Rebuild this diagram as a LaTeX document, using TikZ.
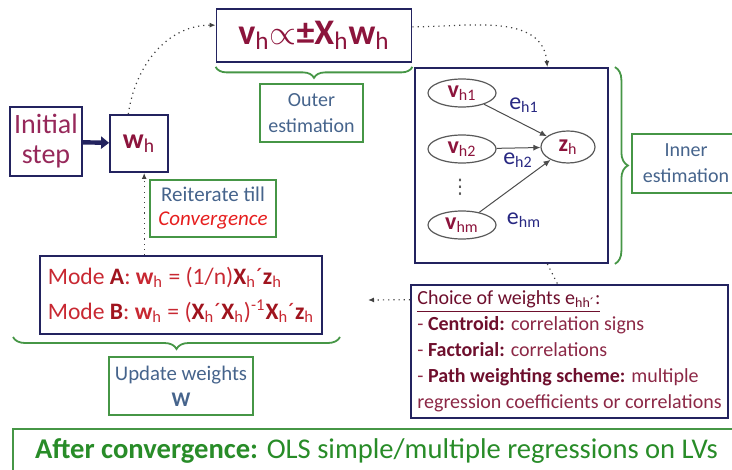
\documentclass[tikz,border=0pt]{standalone}
\usepackage{fontspec}
\setmainfont{Carlito}
\newfontfamily\symfont{DejaVu Sans}
\usetikzlibrary{arrows.meta,decorations.pathreplacing,shapes.geometric}
\definecolor{navy}{RGB}{35,35,95}
\definecolor{boxgreen}{RGB}{70,150,70}
\definecolor{initred}{RGB}{150,40,90}
\definecolor{maroon}{RGB}{140,20,60}
\definecolor{bluegray}{RGB}{70,100,140}
\definecolor{convred}{RGB}{230,30,30}
\definecolor{modered}{RGB}{200,40,50}
\definecolor{modedark}{RGB}{160,20,30}
\definecolor{enavy}{RGB}{40,40,130}
\definecolor{choicec}{RGB}{140,40,70}
\definecolor{choicedark}{RGB}{110,15,45}
\definecolor{aftergreen}{RGB}{40,140,40}
\newcommand{\sub}[1]{\textsubscript{#1}}
\begin{document}
\begin{tikzpicture}[x=0.5pt,y=-0.5pt,
  navybox/.style={shape=rectangle,draw=navy,line width=0.9pt,inner sep=0pt},
  greenbox/.style={shape=rectangle,draw=boxgreen,line width=0.9pt,inner sep=0pt,align=center},
  lv/.style={shape=ellipse,draw=gray!70!black,line width=0.6pt,minimum width=34pt,minimum height=14pt,inner sep=0pt},
  dotline/.style={dotted,line width=0.6pt,gray!50!black},
  lvarrow/.style={line width=0.5pt,gray!60!black,-{Latex[length=3.5pt,width=3pt]}},
  gbrace/.style={decorate,decoration={brace,amplitude=5.5pt},draw=boxgreen,line width=0.9pt}]
      \useasboundingbox (0,0) rectangle (732,470);

      \def\fbig{\fontsize{18}{20}\selectfont}
      \def\fmid{\fontsize{11.8}{17.5}\selectfont}
      \def\fsmall{\fontsize{10}{13}\selectfont}

      \path node (init) at (46,141.5)
            [navybox,minimum width=36pt,minimum height=34.5pt,align=center,
             text=initred,font=\fontsize{14}{15}\selectfont]
            {Initial\\step};

      \path node (wh) at (139,143.5)
            [navybox,minimum width=29pt,minimum height=28.5pt,
             text=maroon,font=\fontsize{14}{16}\selectfont]
            {\textbf{w}\sub{h}};

      \path node (vh) at (314,35.5)
            [navybox,minimum width=97.5pt,minimum height=26.5pt,
             text=maroon,font=\fbig]
            {\textbf{v}\sub{h}$\propto$\textbf{±X}\sub{h}\textbf{w}\sub{h}};

      \path node (outer) at (311.5,113)
            [greenbox,minimum width=51.5pt,minimum height=29pt,
             text=bluegray,font=\fsmall]
            {Outer\\estimation};

      \path node (reit) at (213,208.5)
            [greenbox,minimum width=63pt,minimum height=28.5pt,
             text=bluegray,font=\fontsize{10.5}{12}\selectfont]
            {Reiterate till\\\textit{\color{convred}Convergence}};

      \path node (inner) at (511.5,165.5)
            [navybox,minimum width=96.5pt,minimum height=97.5pt] {};

      \path node (vh1) at (462,93) [lv,text=maroon,font=\fontsize{12}{14}\selectfont]
            {\textbf{v}\sub{h1}};
      \path node (vh2) at (462,149) [lv,text=maroon,font=\fontsize{12}{14}\selectfont]
            {\textbf{v}\sub{h2}};
      \path node (vdots) at (460,187) [text=gray!70!black,font=\symfont\fontsize{10}{12}\selectfont] {⋮};
      \path node (vhm) at (462,225) [lv,text=maroon,font=\fontsize{12}{14}\selectfont]
            {\textbf{v}\sub{hm}};
      \path node (zh) at (568,147) [lv,minimum width=27pt,minimum height=16pt,
             text=maroon,font=\fontsize{12}{14}\selectfont]
            {\textbf{z}\sub{h}};

      \draw[lvarrow] (vh1) -- (zh);
      \draw[lvarrow] (vh2) -- (zh);
      \draw[lvarrow] (vhm) -- (zh);

      \path node (eh1) at (524,105) [text=enavy,font=\fontsize{12}{14}\selectfont] {e\sub{h1}};
      \path node (eh2) at (518,160) [text=enavy,font=\fontsize{12}{14}\selectfont] {e\sub{h2}};
      \path node (ehm) at (524,220) [text=enavy,font=\fontsize{12}{14}\selectfont] {e\sub{hm}};

      \path node (innerest) at (686,163.5)
            [greenbox,minimum width=54pt,minimum height=29.5pt,
             text=bluegray,font=\fsmall]
            {Inner\\estimation};

      \path node (mode) at (181,295)
            [navybox,minimum width=141pt,minimum height=39pt,align=left,
             text=modered,font=\fmid]
            {Mode \textbf{\color{modedark}A}: \textbf{w}\sub{h} = (1/n)\textbf{\color{modedark}X}\sub{h}´\textbf{\color{modedark}z}\sub{h}\\
             Mode \textbf{\color{modedark}B}: \textbf{w}\sub{h} = (\textbf{\color{modedark}X}\sub{h}´\textbf{\color{modedark}X}\sub{h})\textsuperscript{-1}\textbf{\color{modedark}X}\sub{h}´\textbf{\color{modedark}z}\sub{h}};

      \path node (update) at (181,386)
            [greenbox,minimum width=72pt,minimum height=29pt,
             text=bluegray,font=\fontsize{10.4}{13}\selectfont]
            {Update weights\\\textbf{W}};

      \path node (choice) at (569.5,351.5)
            [navybox,minimum width=158.5pt,minimum height=66.5pt,align=left,
             text=choicec,font=\fontsize{10}{13}\selectfont]
            {{\color{choicedark}\underline{Choice of weights e\sub{hh´}:}}\\
             - \textbf{\color{choicedark}Centroid:} correlation signs\\
             - \textbf{\color{choicedark}Factorial:} correlations\\
             - \textbf{\color{choicedark}Path weighting scheme:} multiple\\
             regression coefficients or correlations};

      \path node (after) at (376.5,451.5)
            [shape=rectangle,draw=boxgreen,line width=0.9pt,
             minimum width=363.5pt,inner ysep=0pt,text height=14.5pt,text depth=8pt,
             text=aftergreen,font=\fontsize{14.3}{16}\selectfont]
            {\textbf{After convergence:} OLS simple/multiple regressions on LVs};

      \draw[gbrace] ([yshift=-2pt]vh.south east) -- ([yshift=-2pt]vh.south west);
      \draw[gbrace,decoration={amplitude=6.5pt}] ([xshift=3pt]inner.north east) -- ([xshift=3pt]inner.south east);
      \draw[gbrace,decoration={amplitude=6pt}] (340,337) -- (13,337);

      \draw[line width=2.2pt,navy,-{Triangle[length=4pt,width=6pt]}] (init) -- (wh);

      \draw[dotline,-{Latex[length=3pt,width=2.5pt]}] (wh.110) to[out=82,in=180] (vh.174);
      \draw[dotline,-{Latex[length=3pt,width=2.5pt]}] (vh.5) to[out=0,in=95] (inner.70);
      \draw[dotline] (inner.-70) -- (choice.100);

      \coordinate (modeend) at (368,300);
      \draw[dotline,-{Latex[length=3pt,width=2.5pt]}] (choice.162) -- (modeend);
      \draw[dotline,-{Latex[length=3pt,width=2.5pt]}] (mode.north -| wh.-80) -- (wh.-80);
    \end{tikzpicture}
\end{document}
